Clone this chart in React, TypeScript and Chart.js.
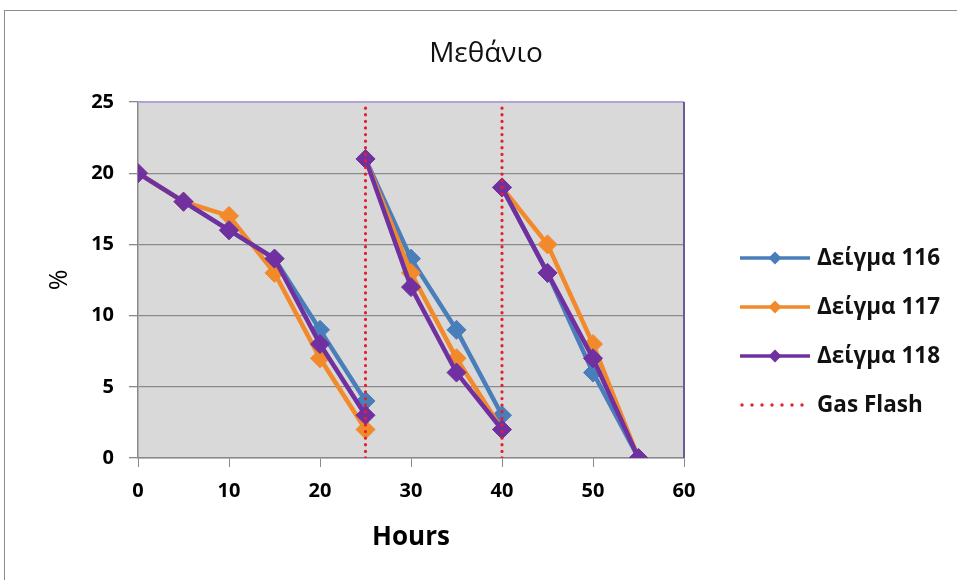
import React, { useEffect, useRef } from "react";
import { Chart, registerables } from "chart.js";

Chart.register(...registerables);

// ---- data ----
const chartTitle = "Μεθάνιο";
const xAxisTitle = "Hours";
const yAxisTitle = "%";
const seriesLabels = ["Δείγμα 116", "Δείγμα 117", "Δείγμα 118"];
const flashLabel = "Gas Flash";

// sampling hours; a new run starts at each index in segmentStarts
const hours = [0, 5, 10, 15, 20, 25, 25, 30, 35, 40, 40, 45, 50, 55];
const segmentStarts = [6, 10];
const sample116 = [20, 18, 16, 14, 9, 4, 21, 14, 9, 3, 19, 13, 6, 0];
const sample117 = [20, 18, 17, 13, 7, 2, 21, 13, 7, 2, 19, 15, 8, 0];
const sample118 = [20, 18, 16, 14, 8, 3, 21, 12, 6, 2, 19, 13, 7, 0];
const flashHours = [25, 40];
const flashRange = [0, 25];

const xTicks = { min: 0, max: 60, step: 10 };
const yTicks = { min: 0, max: 25, step: 5 };

// ---- styles ----
const FONT = "'Open Sans', 'Noto Sans', sans-serif";
const seriesColors = ["#4A7EBB", "#F28A2B", "#7030A0"];
const flashColor = "#E3202E";
const gridColor = "#8A8A8A";

function toPoints(values: number[]) {
  const pts: { x: number; y: number | null }[] = [];
  values.forEach((v, i) => {
    if (segmentStarts.includes(i)) pts.push({ x: hours[i], y: null });
    pts.push({ x: hours[i], y: v });
  });
  return pts;
}

function flashPoints() {
  const pts: { x: number; y: number | null }[] = [];
  flashHours.forEach((h, i) => {
    if (i > 0) pts.push({ x: h, y: null });
    pts.push({ x: h, y: flashRange[0] });
    pts.push({ x: h, y: flashRange[1] });
  });
  return pts;
}

const backgroundPlugin = {
  id: "bgPlugin",
  beforeDraw(chart: any) {
    const { ctx, chartArea, width, height } = chart;
    ctx.save();
    ctx.fillStyle = "#ffffff";
    ctx.fillRect(0, 0, width, height);
    ctx.strokeStyle = "#8C8C8C";
    ctx.lineWidth = 1;
    ctx.strokeRect(4.5, 10.5, width + 20, height + 20);
    // title
    ctx.fillStyle = "#111111";
    ctx.font = `normal 28px ${FONT}`;
    ctx.textAlign = "center";
    ctx.textBaseline = "alphabetic";
    ctx.fillText(chartTitle, 486, 62);
    // plot area
    ctx.fillStyle = "#D9D9D9";
    ctx.fillRect(chartArea.left, chartArea.top, chartArea.right - chartArea.left, chartArea.bottom - chartArea.top);
    ctx.restore();
  },
  beforeDatasetsDraw(chart: any) {
    const { ctx, chartArea } = chart;
    ctx.save();
    ctx.lineWidth = 2;
    ctx.strokeStyle = "#B3A0D8";
    ctx.beginPath();
    ctx.moveTo(chartArea.left, chartArea.top);
    ctx.lineTo(chartArea.right, chartArea.top);
    ctx.stroke();
    ctx.strokeStyle = "#6C5A94";
    ctx.beginPath();
    ctx.moveTo(chartArea.right, chartArea.top);
    ctx.lineTo(chartArea.right, chartArea.bottom);
    ctx.stroke();
    ctx.restore();
  },
};

const legendPlugin = {
  id: "customLegend",
  afterDraw(chart: any) {
    const { ctx, chartArea } = chart;
    const x0 = chartArea.right + 56;
    const lineLen = 70;
    const y0 = 258;
    const gap = 49;
    ctx.save();
    ctx.font = `bold 22.5px ${FONT}`;
    ctx.textBaseline = "middle";
    ctx.textAlign = "left";
    const labels = [...seriesLabels, flashLabel];
    labels.forEach((label, i) => {
      const y = y0 + i * gap;
      if (i < seriesLabels.length) {
        ctx.strokeStyle = seriesColors[i];
        ctx.lineWidth = 3.5;
        ctx.beginPath();
        ctx.moveTo(x0, y);
        ctx.lineTo(x0 + lineLen, y);
        ctx.stroke();
        const cx = x0 + lineLen / 2;
        const r = 6.5;
        ctx.fillStyle = seriesColors[i];
        ctx.beginPath();
        ctx.moveTo(cx, y - r);
        ctx.lineTo(cx + r, y);
        ctx.lineTo(cx, y + r);
        ctx.lineTo(cx - r, y);
        ctx.closePath();
        ctx.fill();
      } else {
        ctx.fillStyle = flashColor;
        for (let k = 0; k < 7; k++) {
          ctx.beginPath();
          ctx.arc(x0 + 2 + k * 10, y, 1.7, 0, Math.PI * 2);
          ctx.fill();
        }
      }
      ctx.fillStyle = "#111111";
      ctx.fillText(label, x0 + lineLen + 7, y + 1);
    });
    ctx.restore();
  },
};

export default function App() {
  const canvasRef = useRef<HTMLCanvasElement | null>(null);

  useEffect(() => {
    if (!canvasRef.current) return;
    const seriesData = [sample116, sample117, sample118];
    const datasets: any[] = seriesData.map((vals, i) => ({
      label: seriesLabels[i],
      data: toPoints(vals),
      borderColor: seriesColors[i],
      backgroundColor: seriesColors[i],
      borderWidth: 4.5,
      pointStyle: "rectRot",
      pointRadius: 9.5,
      pointBorderWidth: 1,
      pointBorderColor: seriesColors[i],
      pointBackgroundColor: seriesColors[i],
      spanGaps: false,
      tension: 0,
      order: 3 - i,
    }));
    datasets.push({
      label: flashLabel,
      data: flashPoints(),
      borderColor: flashColor,
      borderWidth: 3.2,
      borderDash: [0.1, 6.5],
      borderCapStyle: "round",
      pointRadius: 0,
      spanGaps: false,
      order: 0,
    });

    const chart = new Chart(canvasRef.current, {
      type: "line",
      data: { datasets },
      options: {
        animation: false,
        responsive: false,
        devicePixelRatio: 1,
        layout: { padding: { left: 0, right: 273, top: 102, bottom: 0 } },
        plugins: {
          legend: { display: false },
          tooltip: { enabled: false },
          title: { display: false },
        },
        scales: {
          x: {
            type: "linear",
            min: xTicks.min,
            max: xTicks.max,
            ticks: {
              stepSize: xTicks.step,
              color: "#000000",
              font: { family: FONT, size: 20, weight: "bold" },
              padding: 12,
            },
            grid: {
              drawOnChartArea: false,
              drawTicks: true,
              tickLength: 9,
              color: gridColor,
            },
            border: { color: gridColor, width: 1.5 },
            title: {
              display: true,
              text: xAxisTitle,
              color: "#000000",
              font: { family: FONT, size: 26, weight: "bold" },
              padding: { top: 0, bottom: 27 },
            },
            afterFit(scale: any) {
              scale.height = 122;
            },
          },
          y: {
            type: "linear",
            min: yTicks.min,
            max: yTicks.max,
            ticks: {
              stepSize: yTicks.step,
              color: "#000000",
              font: { family: FONT, size: 20, weight: "bold" },
              padding: 15,
            },
            grid: {
              drawOnChartArea: true,
              drawTicks: true,
              tickLength: 9,
              color: gridColor,
              lineWidth: 1.3,
            },
            border: { color: gridColor, width: 1.5 },
            title: {
              display: true,
              text: yAxisTitle,
              color: "#000000",
              font: { family: FONT, size: 25, weight: "normal" },
              padding: { top: 45, bottom: 0 },
            },
            afterFit(scale: any) {
              scale.width = 138;
            },
          },
        },
      },
      plugins: [backgroundPlugin, legendPlugin],
    });
    return () => chart.destroy();
  }, []);

  return (
    <div style={{ position: "fixed", left: 0, top: 0, width: 957, height: 580, overflow: "hidden", background: "#fff" }}>
      <canvas ref={canvasRef} width={957} height={580} style={{ display: "block" }} />
    </div>
  );
}
